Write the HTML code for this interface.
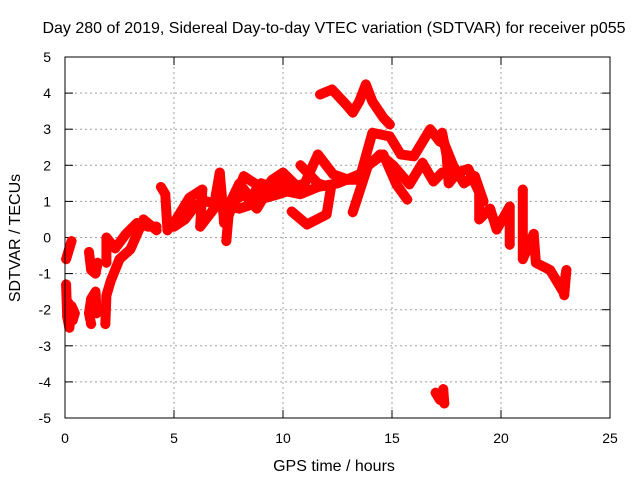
<!DOCTYPE html>
<html><head><meta charset="utf-8"><style>
body{margin:0;background:#fff}
svg{display:block;font-family:"Liberation Sans",sans-serif}
</style></head><body>
<svg id="chart" width="640" height="480">
<text x="334" y="33" font-size="16" text-anchor="middle">Day 280 of 2019, Sidereal Day-to-day VTEC variation (SDTVAR) for receiver p055</text>
<text x="334" y="471" font-size="16" text-anchor="middle">GPS time / hours</text>
<text x="20" y="238" font-size="16" text-anchor="middle" transform="rotate(-90 20 238)">SDTVAR / TECUs</text>
<g id="grid"></g><g id="ticks"></g><g id="marks"></g>
<rect x="65" y="57" width="545" height="361" fill="none" stroke="#000" stroke-width="1"/>
</svg>
<script>
const xTicks=[0,5,10,15,20,25];
const yTicks=[-5,-4,-3,-2,-1,0,1,2,3,4,5];
const trackA1=[[0.05,-1.3],[0.1,-2.2],[0.2,-2.5],[0.3,-1.9],[0.45,-2.1],[0.35,-2.3],[0.15,-1.8]];
const trackA2=[[0.05,-0.6],[0.2,-0.3],[0.3,-0.1]];
const trackA3=[[1.1,-0.4],[1.2,-0.9],[1.4,-1.0],[1.5,-0.7]];
const trackA4=[[1.2,-2.4],[1.1,-2.1],[1.2,-1.7],[1.4,-1.5],[1.45,-2.1]];
const trackA5=[[1.85,-2.4],[1.9,-1.6],[2.1,-1.2],[2.5,-0.6],[3.0,-0.33],[3.6,0.5],[4.2,0.2]];
const trackA6=[[1.9,-0.7],[1.9,0.0],[2.3,-0.3],[2.8,0.1],[3.3,0.4],[3.8,0.3],[4.2,0.3]];
const trackB=[[4.4,1.4],[4.6,1.2],[4.7,0.2],[5.1,0.5],[5.7,1.1],[6.3,1.33],[6.2,0.3],[6.8,0.77],[7.1,1.8],[7.3,0.4],[7.6,1.0],[8.0,1.5],[8.5,1.1],[9.0,1.5],[9.5,1.4],[10.0,1.6],[10.5,1.4],[11.0,1.5],[11.6,2.3],[12.3,1.75],[13.0,1.6],[13.5,1.6],[14.1,2.9],[14.9,2.8],[15.4,2.3],[16.0,2.25],[16.75,3.0],[17.2,2.65]];
const trackB2=[[5.0,0.3],[5.5,0.5],[6.0,0.9],[6.5,1.0],[7.0,0.9],[8.0,0.8],[8.5,0.9],[9.0,1.2],[9.5,1.6],[10.0,1.8],[10.5,1.5],[11.0,1.3]];
const trackB3=[[7.4,-0.1],[7.5,0.6],[8.2,1.7],[8.7,1.5],[9.2,1.1],[9.8,1.2],[10.3,1.3]];
const trackC=[[7.5,0.9],[8.2,1.2],[8.8,0.8],[9.3,1.3],[10.0,1.3],[10.8,1.2],[11.6,1.4],[12.5,1.5],[13.5,1.75],[14.45,2.3],[15.05,2.0],[15.8,1.47],[16.4,2.07],[16.9,1.55],[17.3,1.8]];
const trackD=[[10.4,0.72],[11.1,0.36],[12.0,0.64],[12.2,1.38],[11.6,1.5],[10.8,2.0]];
const trackE=[[13.2,0.7],[13.9,2.0],[14.6,2.3],[15.2,1.47],[15.7,1.05]];
const trackF=[[11.7,3.96],[12.25,4.1],[12.9,3.68],[13.2,3.46],[13.5,3.77],[13.8,4.24],[14.1,3.77],[14.6,3.32],[14.9,3.13]];
const trackG=[[17.3,2.9],[17.5,2.3],[17.6,1.5],[18.0,1.8],[18.5,1.9],[19.0,1.25],[19.0,0.5],[19.5,0.8],[19.8,0.22],[20.4,0.86],[20.4,-0.2]];
const trackG2=[[17.4,2.6],[17.8,2.0],[18.3,1.5],[18.8,1.7],[19.2,1.0]];
const trackH=[[21.0,1.33],[21.0,-0.6],[21.5,0.1],[21.6,-0.7],[22.25,-0.9],[22.85,-1.5],[23.0,-0.9],[22.9,-1.6]];
const trackI=[[17.0,-4.3],[17.2,-4.5],[17.35,-4.2],[17.4,-4.6]];
const tracks=[trackA1,trackA2,trackA3,trackA4,trackA5,trackA6,trackB,trackB2,trackB3,trackC,trackD,trackE,trackF,trackG,trackG2,trackH,trackI];
const X0=65,X1=610,Y0=418,Y1=57;
const xs=t=>X0+(t-0)/(25-0)*(X1-X0);
const ys=v=>Y0-(v+5)/10*(Y0-Y1);
const NS="http://www.w3.org/2000/svg";
const grid=document.getElementById('grid'),ticks=document.getElementById('ticks'),marks=document.getElementById('marks');
function mk(tag,attrs,parent){const e=document.createElementNS(NS,tag);for(const k in attrs)e.setAttribute(k,attrs[k]);parent.appendChild(e);return e;}
xTicks.forEach(t=>{const x=xs(t);
 if(t>0&&t<25){const g=mk('line',{x1:x,x2:x,y1:Y1,y2:Y0,stroke:'#a0a0a0','stroke-dasharray':'2,3'},grid);
 
 }
 mk('line',{x1:x,x2:x,y1:Y0,y2:Y0-8,stroke:'#000'},ticks);
 mk('line',{x1:x,x2:x,y1:Y1,y2:Y1+8,stroke:'#000'},ticks);
 const l=mk('text',{x:x,y:443,'font-size':14,'text-anchor':'middle'},ticks);l.textContent=t;
 
 
});
yTicks.forEach(v=>{const y=ys(v);
 if(v>-5&&v<5){const g=mk('line',{x1:X0,x2:X1,y1:y,y2:y,stroke:'#a0a0a0','stroke-dasharray':'2,3'},grid);
 
 }
 mk('line',{x1:X0,x2:X0+8,y1:y,y2:y,stroke:'#000'},ticks);
 mk('line',{x1:X1,x2:X1-8,y1:y,y2:y,stroke:'#000'},ticks);
 const l=mk('text',{x:51,y:y+5,'font-size':14,'text-anchor':'end'},ticks);l.textContent=v;
 
 
});
tracks.forEach(tr=>{
 const p=mk('polyline',{points:tr.map(d=>xs(d[0])+','+ys(d[1])).join(' '),fill:'none',stroke:'#ff0000','stroke-width':10,'stroke-linejoin':'round','stroke-linecap':'round'},marks);
 
 
 tr.forEach(d=>{const x=xs(d[0]),y=ys(d[1]);
  const m=mk('path',{d:`M${x-5},${y}h10M${x},${y-5}v10`,stroke:'#ff0000','stroke-width':1.5},marks);
  
  
 });
});
</script>
</body></html>
